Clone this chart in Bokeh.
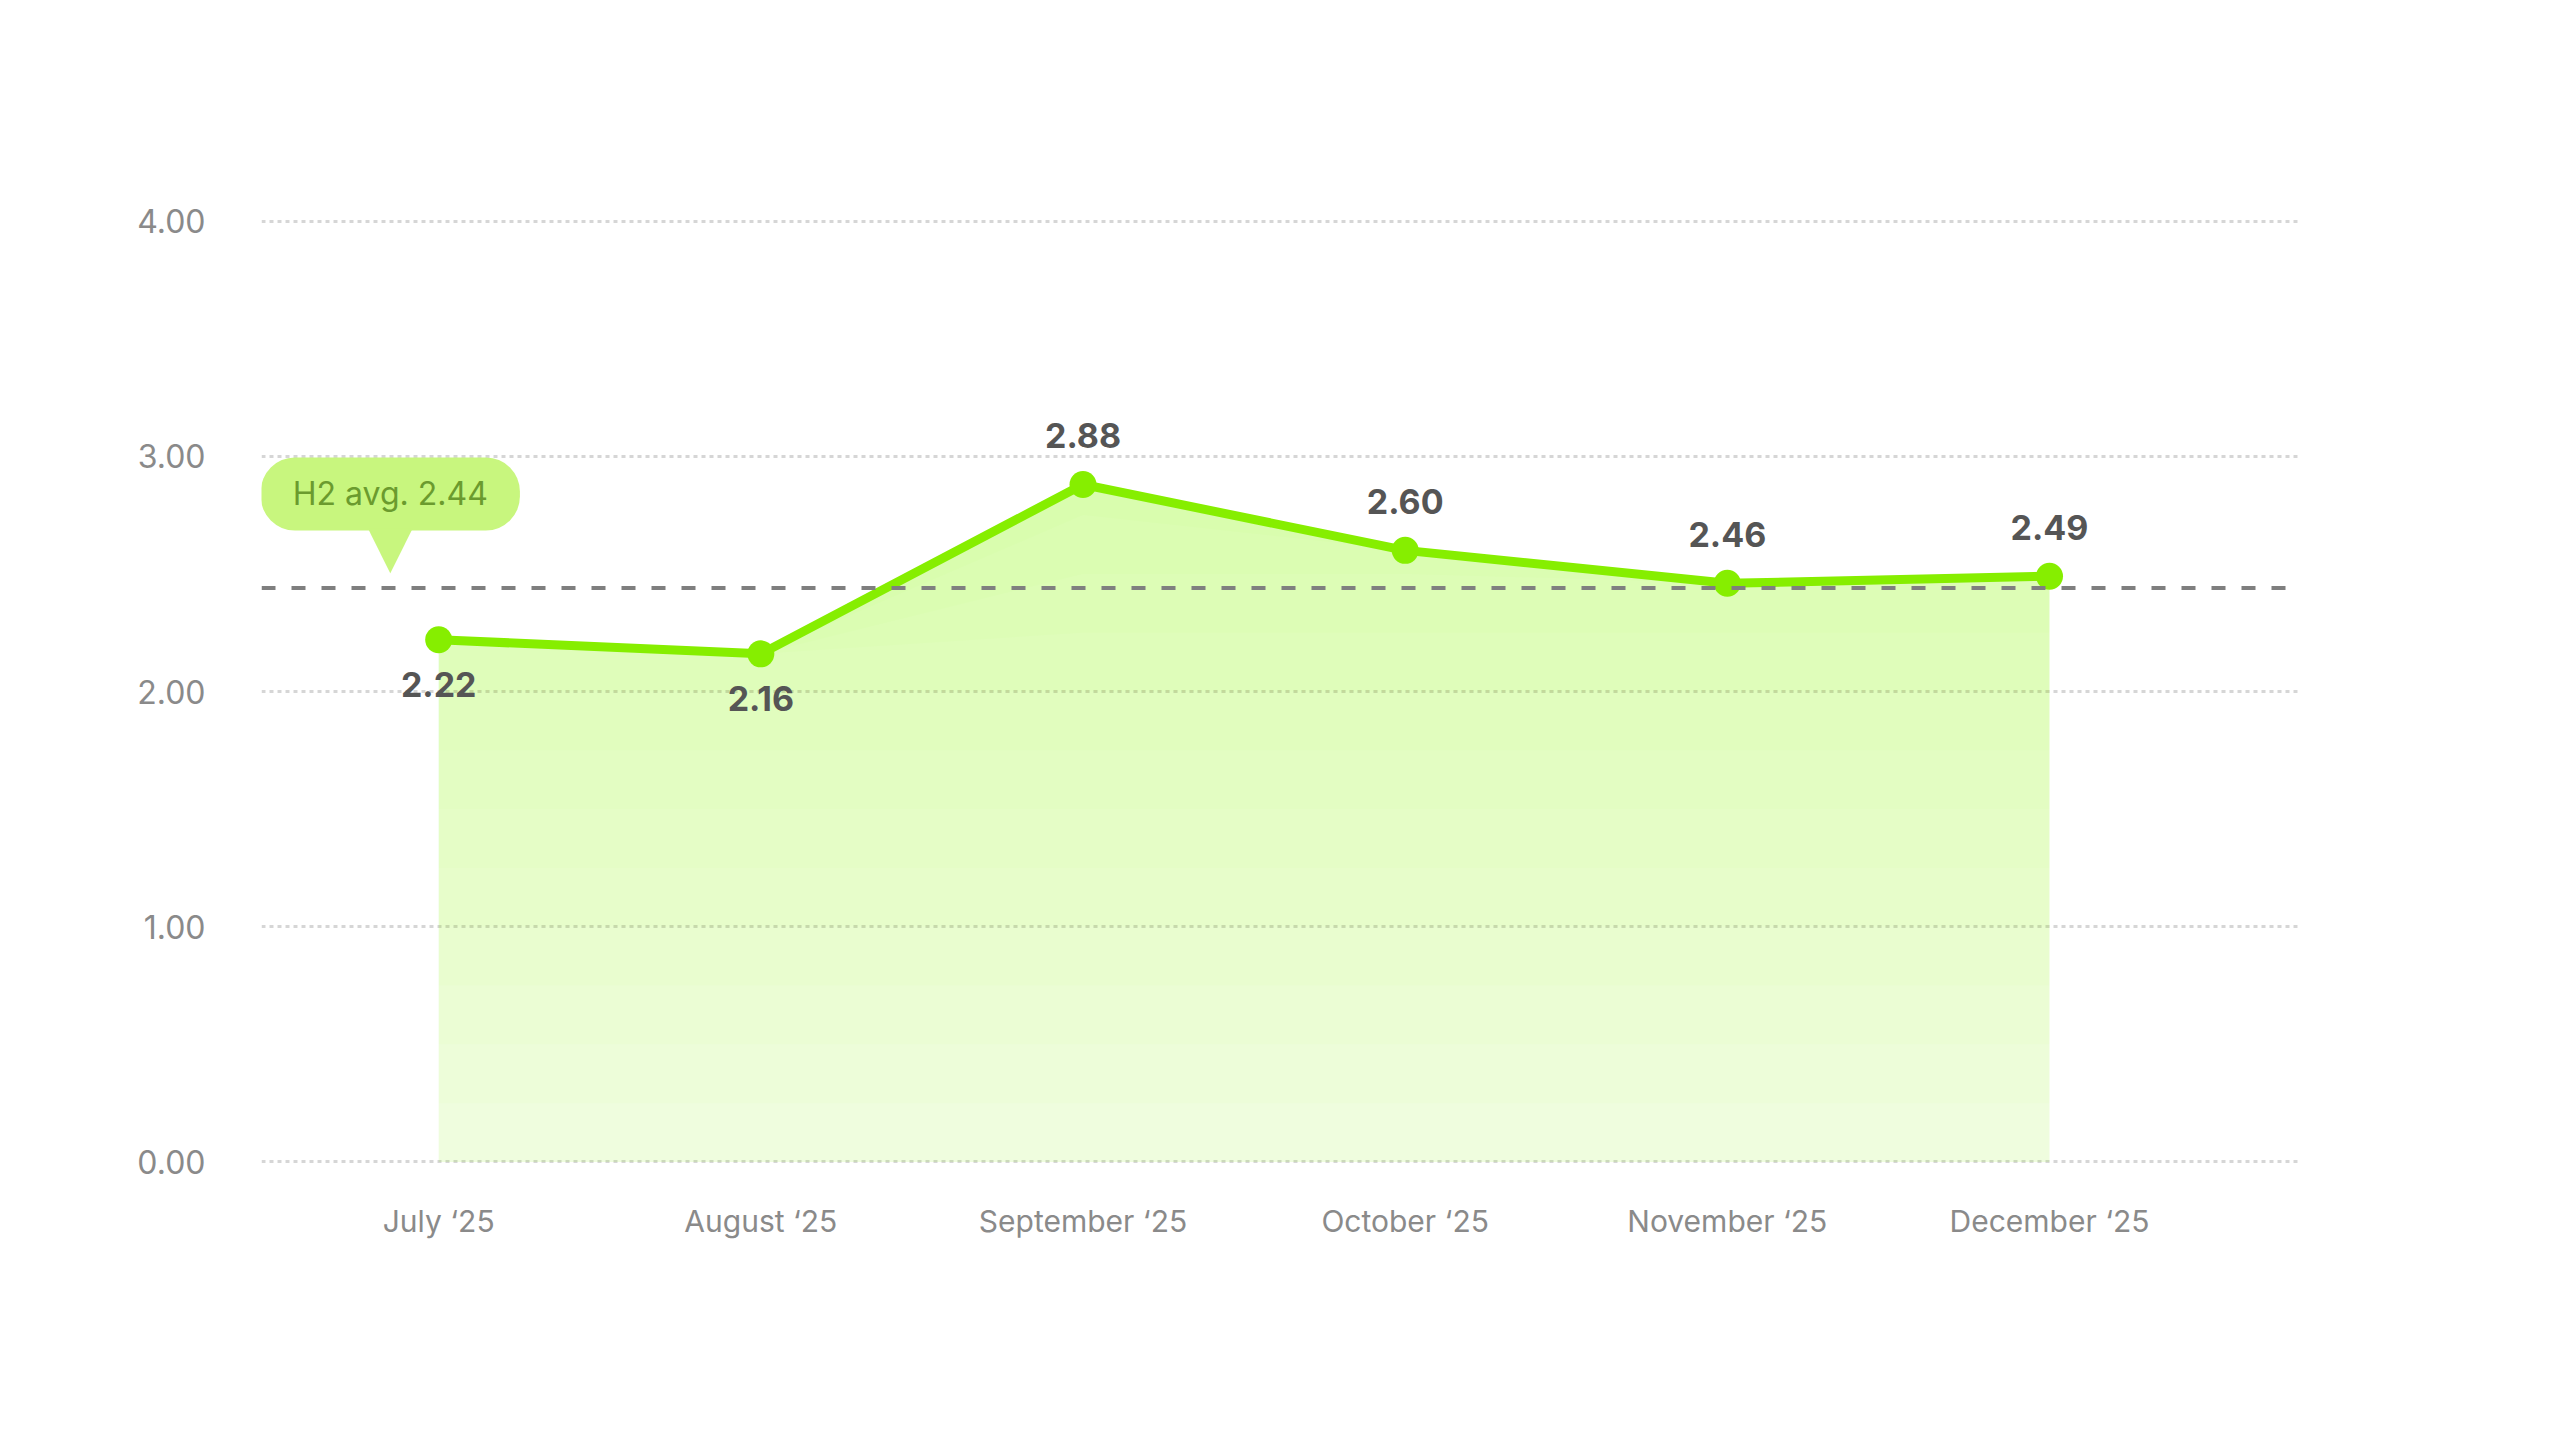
import numpy as np
from bokeh.plotting import figure
from bokeh.models import ColumnDataSource, FixedTicker, PrintfTickFormatter, Span, Label
from bokeh.core.properties import value
from bokeh.embed import file_html
from bokeh.resources import INLINE

# Chart data
MONTHS = ["July \u201825", "August \u201825", "September \u201825",
          "October \u201825", "November \u201825", "December \u201825"]
SCORES = [2.22, 2.16, 2.88, 2.60, 2.46, 2.49]
H2_AVG = 2.44
Y_TICKS = [0, 1, 2, 3, 4]

LINE_GREEN = "#86ee00"
FONT = "Inter"

x = list(range(len(MONTHS)))
ys = np.array(SCORES)

p = figure(width=2544, height=1420, output_backend="svg", toolbar_location=None,
           x_range=(-0.55, 5.776), y_range=(-0.1, 4.1),
           min_border_left=261, min_border_right=245,
           min_border_top=197, min_border_bottom=235)
p.outline_line_color = None
p.background_fill_color = "white"
p.xgrid.grid_line_color = None
p.ygrid.grid_line_color = "#d6d6d6"
p.ygrid.grid_line_width = 3
p.ygrid.grid_line_dash = "4 4"

# Axes
p.yaxis.ticker = FixedTicker(ticks=Y_TICKS)
p.yaxis.formatter = PrintfTickFormatter(format="%.2f")
p.xaxis.ticker = FixedTicker(ticks=x)
p.xaxis.major_label_overrides = {i: m for i, m in zip(x, MONTHS)}
for ax in (p.xaxis, p.yaxis):
    ax.axis_line_color = None
    ax.major_tick_line_color = None
    ax.minor_tick_line_color = None
    ax.major_label_text_font = FONT
    ax.major_label_text_color = "#8a8a8a"
p.yaxis.major_label_text_font_size = "32px"
p.yaxis.major_label_standoff = 50
p.xaxis.major_label_text_font_size = "30px"
p.xaxis.major_label_standoff = 11

# Area under the line, layered bands to fake a vertical gradient
p.varea(x=x, y1=0, y2=ys, fill_color=LINE_GREEN, fill_alpha=0.13)
for level in np.arange(0.25, 3.0, 0.25):
    p.varea(x=x, y1=np.minimum(level, ys), y2=ys, fill_color=LINE_GREEN, fill_alpha=0.02)

# Average reference line
p.add_layout(Span(location=H2_AVG, dimension="width", line_color="#7f7f7f",
                  line_width=4, line_dash="14 16"))

# Main line and points
p.line(x, SCORES, line_color=LINE_GREEN, line_width=9)
p.scatter(x, SCORES, size=27, fill_color=LINE_GREEN, line_color=None)

# Value labels: below the point when under the average, above otherwise
src = ColumnDataSource(dict(
    x=x, y=SCORES, txt=[f"{v:.2f}" for v in SCORES],
    off=[45 if v < H2_AVG else -49 for v in SCORES],
))
p.text(x="x", y="y", text="txt", y_offset="off", source=src,
       text_font=value(FONT), text_font_style="bold", text_font_size="34px",
       text_color="#555555", text_align="center", text_baseline="middle")

# Average callout bubble
p.add_layout(Label(x=-0.15, y=H2_AVG, y_offset=94, text=f"H2 avg. {H2_AVG:.2f}",
                   text_font=FONT, text_font_size="32px", text_color="#6b9b2e",
                   text_align="center", text_baseline="middle",
                   background_fill_color="#c8f67e", padding=(32, 17), border_radius=34))
p.add_layout(Label(x=-0.15, y=H2_AVG, y_offset=42, text="\u25bc",
                   text_font="DejaVu Sans", text_font_size="58px", text_color="#c8f67e",
                   text_align="center", text_baseline="middle"))

open("out.html", "w").write(file_html(p, INLINE))
